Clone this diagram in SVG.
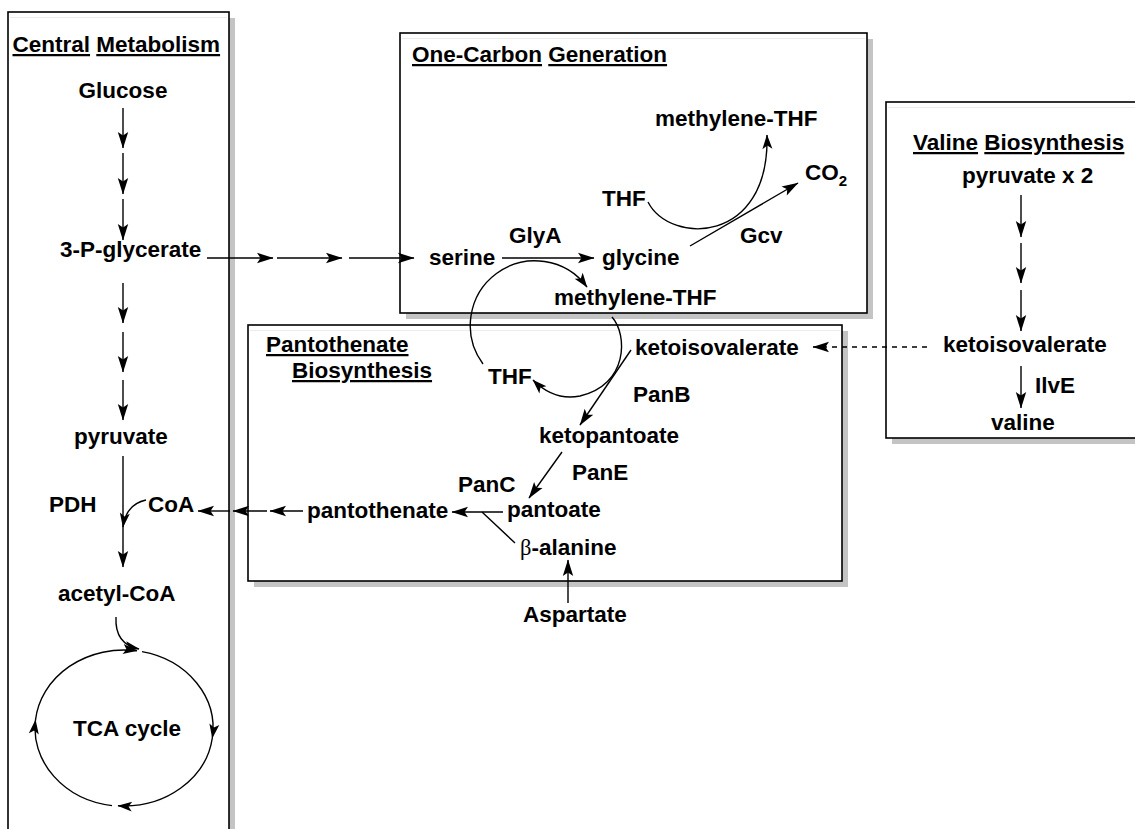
<svg xmlns="http://www.w3.org/2000/svg" width="1135" height="829" viewBox="0 0 1135 829">
<style>
text{font-family:"Liberation Sans",Arial,sans-serif;font-weight:bold;font-size:22.5px;fill:#000}
.u{text-decoration:underline}
.box{fill:#fff;stroke:#000;stroke-width:1.6}
.shadow{fill:#c4c4c4;stroke:none}
.inner{stroke:#ececec;stroke-width:1;fill:none}
.c{fill:none;stroke:#000;stroke-width:1.4}
.a{marker-end:url(#ah)}
.s{marker-end:url(#sh)}
.d{stroke-dasharray:5 5}
</style>
<defs>
<marker id="ah" markerUnits="userSpaceOnUse" viewBox="-18 -6 19 12" markerWidth="19" markerHeight="12" refX="0" refY="0" orient="auto" overflow="visible">
<path d="M0.5,0 L-16,-5.2 L-12.5,0 L-16,5.2 Z" fill="#000"/>
</marker>
<marker id="sh" markerUnits="userSpaceOnUse" viewBox="-15 -6 16 12" markerWidth="16" markerHeight="12" refX="0" refY="0" orient="auto" overflow="visible">
<path d="M0.5,0 L-14,-5 L-10.5,0 L-14,5 Z" fill="#000"/>
</marker>
</defs>
<rect width="1135" height="829" fill="#fff"/>

<g id="box-central">
<rect class="shadow" x="14" y="18" width="221" height="830"/>
<rect class="box" x="8" y="12" width="221" height="830"/>
<line class="inner" x1="10" y1="17.5" x2="227" y2="17.5"/>
</g>
<g id="box-onecarbon">
<rect class="shadow" x="406" y="39" width="467" height="280"/>
<rect class="box" x="400" y="33" width="467" height="280"/>
<line class="inner" x1="402" y1="38.5" x2="865" y2="38.5"/>
</g>
<g id="box-pantothenate">
<rect class="shadow" x="254" y="331" width="594" height="256"/>
<rect class="box" x="248" y="325" width="594" height="256"/>
<line class="inner" x1="250" y1="330.5" x2="840" y2="330.5"/>
</g>
<g id="box-valine">
<rect class="shadow" x="892" y="108" width="260" height="336"/>
<rect class="box" x="886" y="102" width="260" height="336"/>
<line class="inner" x1="888" y1="107.5" x2="1135" y2="107.5"/>
</g>

<g id="connectors">
<!-- central column -->
<path class="c a" d="M123 108 L123 148"/>
<path class="c a" d="M123 153 L123 194"/>
<path class="c a" d="M123 199 L123 240"/>
<path class="c a" d="M123 283 L123 323"/>
<path class="c a" d="M123 332 L123 372"/>
<path class="c a" d="M123 380 L123 420"/>
<path class="c a" d="M123 456 L123 567"/>
<path class="c s" d="M146 500 C132 503 125 512 123 527"/>
<path class="c s" d="M116 617 C115 636 124 646 139 649"/>
<!-- TCA cycle -->
<path class="c s" d="M142 651.6 A89 78 0 0 1 212.3 738"/>
<path class="c s" d="M212.3 738 A89 78 0 0 1 118 805.8"/>
<path class="c s" d="M112 805.6 A89 78 0 0 1 35.5 720"/>
<path class="c s" d="M35.5 720 A89 78 0 0 1 137 650.8"/>
<!-- 3-P-glycerate to serine -->
<path class="c a" d="M207 258 L273 258"/>
<path class="c a" d="M277 258 L342 258"/>
<path class="c a" d="M349 258 L414 258"/>
<!-- one-carbon -->
<path class="c a" d="M502 258 L594 258"/>
<path class="c a" d="M690 246 L798 183"/>
<path class="c s" d="M648 202 C670 245 770 245 767 135"/>
<path class="c s" d="M483 364 A62 62 0 1 1 587 287"/>
<path class="c s" d="M612 317 C628 335 628 385 580 396 C560 400 545 392 533 380"/>
<!-- pantothenate -->
<path class="c a" d="M631 350 L580 425"/>
<path class="c a" d="M562 452 L529 498"/>
<path class="c a" d="M503 512 L452 512"/>
<path class="c" d="M515 543 L482 512"/>
<path class="c a" d="M568 603 L568 560"/>
<path class="c a" d="M303 511 L270 511"/>
<path class="c a" d="M267 511 L233 511"/>
<path class="c a" d="M230 511 L198 511"/>
<!-- valine -->
<path class="c a" d="M1021 195 L1021 237"/>
<path class="c a" d="M1021 243 L1021 283"/>
<path class="c a" d="M1021 290 L1021 331"/>
<path class="c a" d="M1021 366 L1021 408"/>
<path class="c d a" d="M927 347 L813 347"/>
</g>

<g id="title-central"><text x="12.5" y="52"><tspan class="u">Central</tspan> <tspan class="u">Metabolism</tspan></text></g>
<g id="n-glucose"><text x="123" y="98" text-anchor="middle">Glucose</text></g>
<g id="n-3pg"><text x="60" y="257">3-P-glycerate</text></g>
<g id="n-pyruvate"><text x="74" y="444">pyruvate</text></g>
<g id="l-pdh"><text x="49" y="512">PDH</text></g>
<g id="n-coa"><text x="148" y="512">CoA</text></g>
<g id="n-acetylcoa"><text x="58" y="601">acetyl-CoA</text></g>
<g id="n-tca"><text x="73" y="736">TCA cycle</text></g>

<g id="title-onecarbon"><text x="412" y="62"><tspan class="u">One-Carbon</tspan> <tspan class="u">Generation</tspan></text></g>
<g id="n-methylenethf-top"><text x="655" y="126">methylene-THF</text></g>
<g id="n-co2"><text x="805" y="180">CO<tspan font-size="15" dy="6">2</tspan></text></g>
<g id="n-thf-top"><text x="602" y="206">THF</text></g>
<g id="l-glya"><text x="509" y="243">GlyA</text></g>
<g id="n-serine"><text x="429" y="265">serine</text></g>
<g id="n-glycine"><text x="602" y="265">glycine</text></g>
<g id="l-gcv"><text x="740" y="243">Gcv</text></g>
<g id="n-methylenethf-bottom"><text x="554" y="305">methylene-THF</text></g>

<g id="title-pantothenate"><text x="266" y="352" class="u">Pantothenate</text><text x="292" y="378" class="u">Biosynthesis</text></g>
<g id="n-thf-bottom"><text x="488" y="384">THF</text></g>
<g id="n-ketoisovalerate-p"><text x="635" y="355">ketoisovalerate</text></g>
<g id="l-panb"><text x="633" y="402">PanB</text></g>
<g id="n-ketopantoate"><text x="539" y="443">ketopantoate</text></g>
<g id="l-pane"><text x="572" y="480">PanE</text></g>
<g id="l-panc"><text x="458" y="492">PanC</text></g>
<g id="n-pantoate"><text x="507" y="517">pantoate</text></g>
<g id="n-pantothenate"><text x="307" y="518">pantothenate</text></g>
<g id="n-balanine"><text x="520" y="555"><tspan font-family="'Liberation Serif',serif" font-weight="normal">β</tspan>-alanine</text></g>
<g id="n-aspartate"><text x="523" y="622">Aspartate</text></g>

<g id="title-valine"><text x="913" y="150"><tspan class="u">Valine</tspan> <tspan class="u">Biosynthesis</tspan></text></g>
<g id="n-pyruvate2"><text x="962" y="183">pyruvate x 2</text></g>
<g id="n-ketoisovalerate-v"><text x="943" y="352">ketoisovalerate</text></g>
<g id="l-ilve"><text x="1035" y="393">IlvE</text></g>
<g id="n-valine"><text x="991" y="430">valine</text></g>
</svg>
